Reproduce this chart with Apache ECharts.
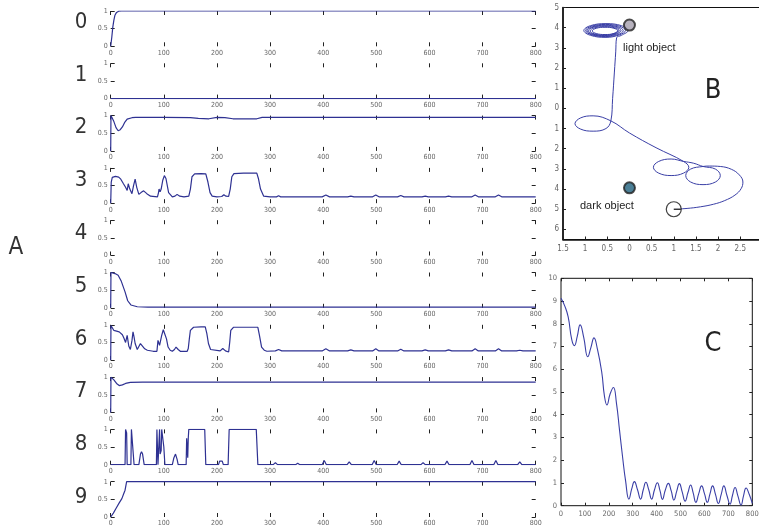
<!DOCTYPE html>
<html><head><meta charset="utf-8">
<script src="https://cdn.jsdelivr.net/npm/echarts@6/dist/echarts.min.js"></script>
<style>html,body{margin:0;padding:0;background:#fff}#c{width:759px;height:529px}</style>
</head><body><div id="c"></div>
<script>
// ---------- Panel A : ten traces (x = time step 0..800, y = 0..1) ----------
const panelNames = ['0','1','2','3','4','5','6','7','8','9'];
const xTicksA = [0,100,200,300,400,500,600,700,800];
const yTicksA = [0,0.5,1];

const s0 = [[0,0],[2,0.25],[4,0.55],[6,0.74],[8,0.88],[11,0.96],[15,0.995],[20,1],[800,1]];
const s1 = [[0,0],[800,0]];
const s2 = [[0,0],[0.5,1],[3,0.95],[6,0.83],[10,0.66],[14,0.57],[18,0.6],[22,0.68],[26,0.8],[31,0.9],[40,0.94],[47,0.95],[100,0.95],[150,0.94],[165,0.92],[185,0.91],[200,0.95],[215,0.94],[230,0.91],[275,0.91],[285,0.95],[400,0.95],[800,0.95]];
const s3 = [[0,0],[1,0.6],[3,0.73],[9,0.76],[15,0.74],[19,0.68],[24,0.55],[28,0.45],[31,0.36],[33,0.55],[36,0.4],[40,0.27],[43,0.5],[46,0.68],[49,0.45],[53,0.25],[57,0.3],[62,0.35],[68,0.27],[75,0.2],[88,0.18],[90,0.3],[91,0.4],[93,0.32],[95,0.4],[98,0.65],[101,0.78],[104,0.7],[109,0.3],[116,0.18],[121,0.2],[125,0.25],[130,0.2],[138,0.18],[147,0.2],[150,0.4],[153,0.75],[158,0.83],[170,0.84],[179,0.83],[183,0.6],[187,0.3],[191,0.2],[200,0.18],[209,0.19],[213,0.24],[217,0.2],[222,0.19],[225,0.4],[228,0.75],[232,0.84],[250,0.85],[275,0.85],[278,0.7],[282,0.4],[288,0.2],[300,0.18],[312,0.18],[316,0.21],[320,0.18],[398,0.18],[405,0.23],[412,0.18],[446,0.18],[452,0.2],[458,0.18],[493,0.18],[499,0.23],[505,0.18],[540,0.18],[546,0.22],[552,0.18],[586,0.18],[592,0.2],[598,0.18],[630,0.18],[636,0.2],[642,0.18],[680,0.18],[686,0.23],[692,0.18],[724,0.18],[730,0.23],[736,0.18],[800,0.18]];
const s4 = [];
const s5 = [[0,0],[0.5,1],[8,0.97],[14,0.92],[20,0.75],[27,0.45],[32,0.2],[38,0.08],[50,0.03],[70,0.02],[800,0.02]];
const s6 = [[0,0],[0.5,0.98],[6,0.84],[16,0.8],[22,0.72],[25,0.62],[28,0.5],[31,0.7],[34,0.4],[37,0.3],[40,0.55],[42,0.8],[44,0.65],[46,0.47],[50,0.3],[53,0.35],[56,0.47],[59,0.43],[64,0.32],[69,0.28],[80,0.25],[87,0.25],[89,0.56],[92,0.42],[96,0.7],[99,0.86],[102,0.82],[105,0.6],[108,0.37],[112,0.28],[116,0.25],[120,0.3],[123,0.37],[127,0.3],[131,0.25],[144,0.25],[146,0.33],[148,0.6],[150,0.84],[156,0.93],[170,0.94],[178,0.94],[181,0.75],[184,0.47],[188,0.3],[191,0.26],[206,0.26],[211,0.33],[216,0.26],[222,0.23],[224,0.5],[226,0.84],[231,0.93],[260,0.93],[277,0.93],[280,0.7],[284,0.37],[289,0.28],[294,0.25],[310,0.26],[316,0.3],[322,0.26],[398,0.26],[405,0.32],[412,0.26],[446,0.26],[452,0.29],[458,0.26],[493,0.26],[499,0.32],[505,0.26],[540,0.26],[546,0.31],[552,0.26],[586,0.26],[592,0.29],[598,0.26],[630,0.26],[636,0.29],[642,0.26],[680,0.26],[686,0.32],[692,0.26],[724,0.26],[730,0.32],[736,0.26],[764,0.26],[770,0.28],[776,0.26],[800,0.26]];
const s7 = [[0,0],[0.5,1],[6,0.92],[11,0.82],[16,0.76],[22,0.78],[28,0.82],[37,0.85],[60,0.86],[800,0.86]];
const s8 = [[0,0],[27,0],[28,1],[29,1],[30,0.9],[31,0],[38,0],[39,1],[42,1],[44,0],[53,0],[56,0.3],[58,0.37],[60,0.3],[63,0],[86,0],[87,1],[88,1],[89,0],[91,0],[92,1],[93,0.3],[95,0.4],[96,1],[98,1],[100,0.5],[102,0],[116,0],[119,0.2],[122,0.3],[125,0.15],[127,0],[142,0],[143,0.75],[144,0.7],[145,0.2],[146,0.75],[147,1],[177,1],[179,0],[203,0],[205,0.1],[207,0.15],[210,0.1],[212,0],[221,0],[223,1],[274,1],[277,0],[306,0],[310,0.06],[314,0],[348,0],[352,0.04],[356,0],[398,0],[402,0.12],[406,0],[445,0],[449,0.08],[453,0],[492,0],[496,0.12],[500,0],[539,0],[543,0.1],[547,0],[584,0],[588,0.06],[592,0],[629,0],[633,0.1],[637,0],[676,0],[680,0.12],[684,0],[721,0],[725,0.12],[729,0],[766,0],[770,0.08],[774,0],[800,0]];
const s9 = [[0,0],[5,0.11],[11,0.27],[16,0.4],[21,0.52],[25,0.68],[27,0.76],[30,1],[800,1]];
const panelSeries = [s0,s1,s2,s3,s4,s5,s6,s7,s8,s9];

// ---------- Panel B : trajectory in the plane ----------
const bXTicks = [-1.5,-1,-0.5,0,0.5,1,1.5,2,2.5,3];
const bYTicks = [-6,-5,-4,-3,-2,-1,0,1,2,3,4,5];
const trajectory = [
 [1.0,-5.0],[1.3,-4.96],[1.6,-4.88],[1.9,-4.75],[2.15,-4.57],[2.38,-4.3],[2.52,-3.98],[2.56,-3.65],[2.48,-3.3],[2.3,-3.02],[2.05,-2.88],[1.8,-2.86],
 [1.66,-2.88],[1.38,-3.01],[1.27,-3.33],[1.38,-3.65],[1.66,-3.78],[1.94,-3.65],[2.05,-3.33],[1.94,-3.01],[1.66,-2.88],
 [1.45,-2.72],[1.22,-2.63],[0.94,-2.51],[0.66,-2.63],[0.54,-2.92],[0.66,-3.21],[0.94,-3.33],[1.22,-3.21],[1.34,-2.92],[1.22,-2.63],
 [0.6,-1.95],[0.0,-1.22],[-0.42,-0.62],
 [-0.82,-0.37],[-1.1,-0.47],[-1.23,-0.76],[-1.1,-1.03],[-0.82,-1.13],[-0.53,-1.0],[-0.42,-0.62],
 [-0.38,0.5],[-0.34,1.8],[-0.31,2.8],[-0.29,3.5],
 [-0.18,3.62],[-0.03,3.86],[-0.18,4.10],[-0.53,4.20],[-0.88,4.10],[-1.03,3.86],[-0.88,3.62],[-0.53,3.52],
 [-0.22,3.65],[-0.09,3.86],[-0.22,4.07],[-0.54,4.16],[-0.86,4.07],[-0.99,3.86],[-0.86,3.65],[-0.54,3.56],
 [-0.26,3.66],[-0.14,3.85],[-0.26,4.04],[-0.55,4.12],[-0.84,4.04],[-0.96,3.85],[-0.84,3.66],[-0.55,3.58],
 [-0.30,3.68],[-0.19,3.85],[-0.30,4.02],[-0.56,4.09],[-0.82,4.02],[-0.93,3.85],[-0.82,3.68],[-0.56,3.61],
 [-0.33,3.69],[-0.23,3.84],[-0.33,3.99],[-0.56,4.05],[-0.79,3.99],[-0.89,3.84],[-0.79,3.69],[-0.56,3.63],
 [-0.35,3.71],[-0.26,3.84],[-0.35,3.97],[-0.55,4.02],[-0.75,3.97],[-0.84,3.84],[-0.75,3.71],[-0.55,3.66],[-0.35,3.71],[-0.26,3.84]
];
const lightObject = [[0,4.13]];
const darkObject = [[0,-3.94]];
const startPoint = [[1,-5]];
const startHeading = [[1,-5],[1.16,-5]];

// ---------- Panel C : distance vs time ----------
const cXTicks = [0,100,200,300,400,500,600,700,800];
const cYTicks = [0,1,2,3,4,5,6,7,8,9,10];
const distance = [[0,9.12],[15,8.8],[30,8.3],[45,7.3],[56,7.04],[68,7.45],[80,7.95],[95,7.4],[112,6.55],[125,6.95],[138,7.38],[152,6.9],[170,5.9],[182,4.8],[192,4.43],[205,4.9],[219,5.2],[232,4.5],[245,3.3],[258,2.1],[270,1.1],[284,0.29],[296,0.75],[307,1.06],[320,0.7],[333,0.29],[344,0.7],[355,1.03],[367,0.7],[379,0.29],[391,0.7],[403,1.01],[414,0.66],[424,0.28],[436,0.68],[449,0.98],[461,0.65],[472,0.25],[484,0.64],[495,0.97],[507,0.6],[519,0.2],[531,0.58],[542,0.91],[553,0.55],[564,0.15],[576,0.53],[588,0.87],[600,0.53],[612,0.15],[623,0.52],[634,0.87],[646,0.5],[658,0.1],[670,0.5],[681,0.87],[694,0.45],[707,0.07],[717,0.45],[728,0.8],[740,0.42],[753,0.03],[763,0.42],[774,0.78],[787,0.5],[800,0.1]];

// ---------- build options ----------
const FONT = "'Liberation Sans Narrow','DejaVu Sans Condensed',sans-serif";
const LINE = '#2e3192';
const grids = [], xAxes = [], yAxes = [], series = [], graphics = [];
const tick = (len) => ({show:true, inside:true, length:len, lineStyle:{color:'#222', width:1}});
const lbl = (show, size) => ({show:show, fontSize:size, color:'#666', margin:3, fontFamily:FONT});

panelSeries.forEach((d,i) => {
  grids.push({left:110.7, top:11 + 52.3*i, width:425, height:35.3, outerBoundsMode:'none', containLabel:false});
  const gx = {type:'value', gridIndex:i, min:xTicksA[0], max:xTicksA[xTicksA.length-1], interval:100,
    axisLine:{show:false, onZero:false}, splitLine:{show:false}};
  xAxes.push(Object.assign({}, gx, {position:'bottom', axisTick:tick(4), axisLabel:lbl(true,7)}));
  xAxes.push(Object.assign({}, gx, {position:'top', axisTick:tick(4), axisLabel:lbl(false,7)}));
  const gy = {type:'value', gridIndex:i, min:yTicksA[0], max:yTicksA[2], interval:0.5,
    axisLine:{show:false, onZero:false}, splitLine:{show:false}};
  yAxes.push(Object.assign({}, gy, {position:'left', axisTick:tick(4), axisLabel:lbl(true,7)}));
  yAxes.push(Object.assign({}, gy, {position:'right', axisTick:tick(4), axisLabel:lbl(false,7)}));
  series.push({type:'line', xAxisIndex:2*i, yAxisIndex:2*i, data:d, showSymbol:false, smooth:false,
    lineStyle:{color:LINE, width:1.2}, silent:true, animation:false});
  graphics.push({type:'text', x:81, y:22 + 52.8*i,
    style:{text:panelNames[i], font:"22px " + FONT, fill:'#333', textAlign:'center', textVerticalAlign:'middle'}});
});

// Panel B
const gB = grids.length;
grids.push({left:563, top:7.5, width:199.4, height:232, show:true, borderColor:'#111', borderWidth:1, outerBoundsMode:'none', containLabel:false});
const xB = xAxes.length;
xAxes.push({type:'value', gridIndex:gB, min:bXTicks[0], max:bXTicks[bXTicks.length-1], interval:0.5, position:'bottom',
  axisLine:{show:true, onZero:false, lineStyle:{color:'#111', width:1.6}}, axisTick:tick(3), splitLine:{show:false},
  axisLabel:Object.assign(lbl(true,8), {margin:5, formatter:v => String(Math.abs(v))})});
const yB = yAxes.length;
yAxes.push({type:'value', gridIndex:gB, min:-6.5, max:5, position:'left',
  axisLine:{show:true, onZero:false, lineStyle:{color:'#111', width:1.6}},
  axisTick:Object.assign(tick(3), {customValues:bYTicks}), splitLine:{show:false},
  axisLabel:Object.assign(lbl(true,8), {margin:4, customValues:bYTicks, formatter:v => String(Math.abs(v))})});
series.push({type:'line', xAxisIndex:xB, yAxisIndex:yB, data:trajectory, showSymbol:false, smooth:0.4,
  lineStyle:{color:'#3a3fa6', width:1}, z:2, animation:false});
series.push({type:'scatter', xAxisIndex:xB, yAxisIndex:yB, data:lightObject, symbolSize:11,
  itemStyle:{color:'#a59fae', borderColor:'#222', borderWidth:2}, z:5, animation:false});
series.push({type:'scatter', xAxisIndex:xB, yAxisIndex:yB, data:darkObject, symbolSize:11,
  itemStyle:{color:'#1e5f7c', borderColor:'#222', borderWidth:2}, z:5, animation:false});
series.push({type:'scatter', xAxisIndex:xB, yAxisIndex:yB, data:startPoint, symbolSize:15,
  itemStyle:{color:'#fff', borderColor:'#111', borderWidth:1.2}, z:5, animation:false});
series.push({type:'line', xAxisIndex:xB, yAxisIndex:yB, data:startHeading, showSymbol:false,
  lineStyle:{color:'#111', width:1.2}, z:6, animation:false});

// Panel C
const gC = grids.length;
grids.push({left:561, top:278.3, width:191.3, height:227.4, show:true, borderColor:'#111', borderWidth:1, outerBoundsMode:'none', containLabel:false});
const xC = xAxes.length;
const cx = {type:'value', gridIndex:gC, min:cXTicks[0], max:cXTicks[cXTicks.length-1], interval:100,
  axisLine:{show:false, onZero:false}, splitLine:{show:false}};
xAxes.push(Object.assign({}, cx, {position:'bottom', axisTick:tick(3), axisLabel:Object.assign(lbl(true,7.5),{margin:4})}));
xAxes.push(Object.assign({}, cx, {position:'top', axisTick:tick(3), axisLabel:lbl(false,7)}));
const yC = yAxes.length;
const cy = {type:'value', gridIndex:gC, min:cYTicks[0], max:cYTicks[cYTicks.length-1], interval:1,
  axisLine:{show:false, onZero:false}, splitLine:{show:false}};
yAxes.push(Object.assign({}, cy, {position:'left', axisTick:tick(3), axisLabel:Object.assign(lbl(true,7.5),{margin:4})}));
yAxes.push(Object.assign({}, cy, {position:'right', axisTick:tick(3), axisLabel:lbl(false,7)}));
series.push({type:'line', xAxisIndex:xC, yAxisIndex:yC, data:distance, showSymbol:false, smooth:0.5,
  lineStyle:{color:'#3a3fa6', width:1.1}, animation:false});

// Text labels
const BIG = "'Liberation Sans Narrow','DejaVu Sans Condensed',sans-serif";
graphics.push({type:'text', x:16, y:248, style:{text:'A', font:"24px " + BIG, fill:'#333', textAlign:'center', textVerticalAlign:'middle'}});
graphics.push({type:'text', x:713, y:91, style:{text:'B', font:"27px " + BIG, fill:'#222', textAlign:'center', textVerticalAlign:'middle'}});
graphics.push({type:'text', x:713, y:344, style:{text:'C', font:"27px " + BIG, fill:'#222', textAlign:'center', textVerticalAlign:'middle'}});
graphics.push({type:'text', x:623, y:48, style:{text:'light object', font:"11px 'Liberation Sans',Arial,sans-serif", fill:'#222', textAlign:'left', textVerticalAlign:'middle'}, z:10});
graphics.push({type:'text', x:580, y:206, style:{text:'dark object', font:"11px 'Liberation Sans',Arial,sans-serif", fill:'#222', textAlign:'left', textVerticalAlign:'middle'}, z:10});

const chart = echarts.init(document.getElementById('c'), null, {renderer:'canvas'});
chart.setOption({animation:false, backgroundColor:'#fff', grid:grids, xAxis:xAxes, yAxis:yAxes, series:series, graphic:graphics});
</script>
</body></html>
